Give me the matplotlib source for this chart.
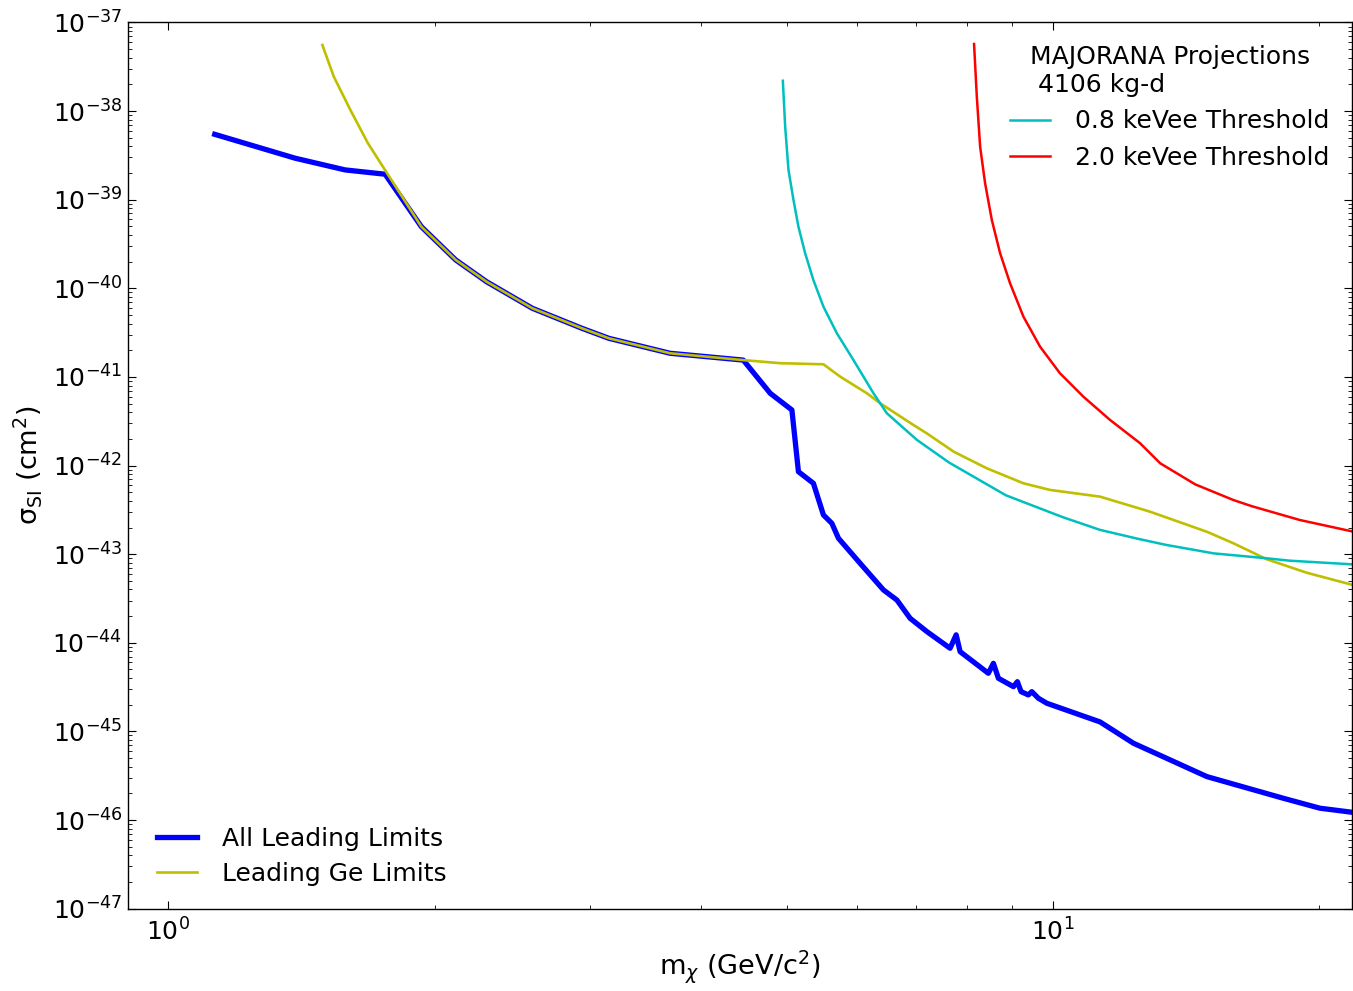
import matplotlib
matplotlib.use("Agg")
import matplotlib.pyplot as plt
from matplotlib.ticker import LogLocator, NullFormatter

# masses (GeV/c^2) and SI cross sections (cm^2)
all_mass = [1.128, 1.391, 1.584, 1.758, 1.932, 2.113, 2.289, 2.579, 2.935, 3.148,
            3.692, 4.467, 4.792, 5.070, 5.157, 5.362, 5.504, 5.626, 5.724, 6.055,
            6.435, 6.664, 6.898, 7.204, 7.654, 7.776, 7.857, 8.456, 8.568, 8.680,
            9.027, 9.120, 9.208, 9.385, 9.469, 9.632, 9.845, 11.31, 12.34, 14.94,
            18.23, 20.05, 21.85]
all_sigma = [5.47e-39, 2.94e-39, 2.17e-39, 1.94e-39, 4.96e-40, 2.09e-40, 1.19e-40,
             5.96e-41, 3.54e-41, 2.73e-41, 1.85e-41, 1.55e-41, 6.54e-42, 4.24e-42,
             8.53e-43, 6.31e-43, 2.77e-43, 2.23e-43, 1.51e-43, 7.90e-44, 3.95e-44,
             3.04e-44, 1.89e-44, 1.34e-44, 8.68e-45, 1.23e-44, 7.94e-45, 4.53e-45,
             5.87e-45, 3.98e-45, 3.20e-45, 3.64e-45, 2.81e-45, 2.58e-45, 2.81e-45,
             2.37e-45, 2.08e-45, 1.28e-45, 7.35e-46, 3.09e-46, 1.76e-46, 1.36e-46,
             1.22e-46]

ge_mass = [1.493, 1.538, 1.606, 1.681, 1.767, 1.932, 2.113, 2.289, 2.579, 2.935,
           3.148, 3.692, 4.467, 4.918, 5.504, 5.748, 6.164, 6.379, 6.958, 7.204,
           7.722, 8.421, 9.265, 9.930, 11.31, 12.88, 14.94, 16.00, 17.46, 19.37,
           21.85]
ge_sigma = [5.57e-38, 2.45e-38, 1.03e-38, 4.34e-39, 1.99e-39, 4.96e-40, 2.09e-40,
            1.19e-40, 5.96e-41, 3.54e-41, 2.73e-41, 1.85e-41, 1.55e-41, 1.43e-41,
            1.39e-41, 1.01e-41, 6.54e-42, 5.05e-42, 2.87e-42, 2.31e-42, 1.44e-42,
            9.32e-43, 6.31e-43, 5.31e-43, 4.46e-43, 3.02e-43, 1.79e-43, 1.33e-43,
            8.76e-44, 6.18e-44, 4.49e-44]

thr08_mass = [4.952, 4.982, 5.025, 5.091, 5.157, 5.248, 5.362, 5.504, 5.700, 5.952,
              6.270, 6.493, 7.020, 7.636, 8.851, 10.26, 11.31, 12.49, 13.45, 15.22,
              17.46, 18.52, 21.85]
thr08_sigma = [2.20e-38, 6.67e-39, 2.17e-39, 9.93e-40, 4.96e-40, 2.49e-40, 1.24e-40,
               6.21e-41, 3.11e-41, 1.55e-41, 6.54e-42, 3.89e-42, 1.95e-42, 1.08e-42,
               4.62e-43, 2.62e-43, 1.88e-43, 1.49e-43, 1.27e-43, 1.02e-43, 8.99e-44,
               8.45e-44, 7.67e-44]

thr20_mass = [8.147, 8.206, 8.277, 8.385, 8.533, 8.719, 8.948, 9.265, 9.674, 10.19,
              10.83, 11.61, 12.55, 13.23, 14.49, 16.00, 16.79, 19.03, 21.85]
thr20_sigma = [5.72e-38, 1.45e-38, 3.97e-39, 1.53e-39, 5.90e-40, 2.49e-40, 1.14e-40,
               4.79e-41, 2.20e-41, 1.10e-41, 5.99e-42, 3.27e-42, 1.79e-42, 1.06e-42,
               6.14e-43, 4.09e-43, 3.48e-43, 2.43e-43, 1.80e-43]

plt.rcParams["font.family"] = ["DejaVu Sans"]
plt.rcParams["mathtext.fontset"] = "dejavusans"
plt.rcParams["axes.unicode_minus"] = False
plt.rcParams["xtick.direction"] = "in"
plt.rcParams["ytick.direction"] = "in"
plt.rcParams["xtick.top"] = True
plt.rcParams["ytick.right"] = True

fig = plt.figure(figsize=(13.53, 9.91), dpi=100)
ax = fig.add_axes([0.0946, 0.0831, 0.9047, 0.8942])

l_all, = ax.plot(all_mass, all_sigma, color="#0000ff", lw=3.8, label="All Leading Limits")
l_ge, = ax.plot(ge_mass, ge_sigma, color="#bfbf00", lw=1.9, label="Leading Ge Limits")
l_08, = ax.plot(thr08_mass, thr08_sigma, color="#00bfbf", lw=1.8, label="0.8 keVee Threshold")
l_20, = ax.plot(thr20_mass, thr20_sigma, color="#ff0000", lw=1.8, label="2.0 keVee Threshold")

ax.set_xscale("log")
ax.set_yscale("log")
ax.set_xlim(0.9, 21.8)
ax.set_ylim(1e-47, 1e-37)
ax.yaxis.set_major_locator(LogLocator(base=10, numticks=20))
ax.yaxis.set_minor_locator(LogLocator(base=10, subs=range(2, 10), numticks=20))
ax.xaxis.set_minor_formatter(NullFormatter())
ax.yaxis.set_minor_formatter(NullFormatter())
ax.tick_params(which="major", length=5.5, width=0.8, labelsize=18)
ax.tick_params(axis="x", which="major", pad=7)
ax.tick_params(axis="y", which="major", pad=4)
ax.tick_params(which="minor", length=2.8, width=0.6)
for s in ax.spines.values():
    s.set_linewidth(1.0)

ax.set_xlabel(r"m$_\chi$ (GeV/c$^2$)", fontsize=19.5, labelpad=2)
ax.set_ylabel(r"σ$_{\rm SI}$ (cm$^2$)", fontsize=19.5, labelpad=6)

leg1 = ax.legend(handles=[l_all, l_ge], loc="lower left", frameon=False, fontsize=18,
                 handlelength=1.6, handletextpad=1.0, labelspacing=0.45,
                 bbox_to_anchor=(0.005, 0.0))
ax.add_artist(leg1)
leg2 = ax.legend(handles=[l_08, l_20], loc="upper right", frameon=False, fontsize=18,
                 title="MAJORANA Projections\n 4106 kg-d", title_fontsize=18,
                 handlelength=1.6, handletextpad=1.0, labelspacing=0.5,
                 bbox_to_anchor=(1.0, 1.0))

fig.savefig("out.png", dpi=100)
